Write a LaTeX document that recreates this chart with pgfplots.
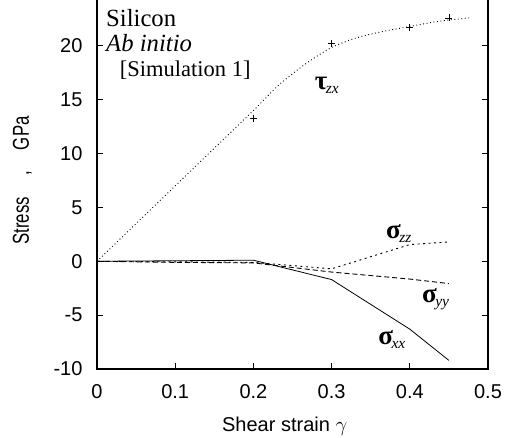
\documentclass[border=0pt]{standalone}
\usepackage{pgfplots}
\pgfplotsset{compat=1.18}
\usepackage{fontspec}
\setmainfont{Liberation Serif}
\newfontfamily\arial{Liberation Sans}
\newcommand\lab[2]{{\fontsize{27}{30}\selectfont\bfseries #1}\kern-1.5pt\raisebox{-4pt}{\fontsize{15.5}{18}\selectfont\itshape #2}}
\begin{document}
\begin{tikzpicture}
\begin{axis}[
  at={(0,0)}, anchor=south west,
  scale only axis, width=391pt, height=377pt,
  xmin=0, xmax=0.5, ymin=-10, ymax=25,
  xtick={0,0.1,0.2,0.3,0.4,0.5},
  ytick={-10,-5,0,5,10,15,20,25},
  tick align=inside, major tick length=6pt,
  axis line style={line width=1.2pt},
  every tick/.style={line width=0.8pt, black},
  /pgf/number format/assume math mode=true,
  ticklabel style={font=\arial\fontsize{20}{24}\selectfont},
  xticklabel style={yshift=-12pt},
  yticklabel style={xshift=-11pt},
  xlabel={Shear strain $\gamma$},
  xlabel style={at={(axis description cs:0.48,0)}, anchor=base, yshift=-62pt, font=\arial\fontsize{20}{24}\selectfont},
  clip=false,
]
% tau_zx fitted curve
\addplot[black, line width=0.9pt, dash pattern=on 0.9pt off 2.6pt, smooth] coordinates {
(0,0)(0.05,3.5)(0.1,7.0)(0.15,10.5)(0.2,14.0)(0.23,16.2)(0.25,17.4)(0.27,18.5)(0.3,19.85)(0.33,20.7)(0.36,21.25)(0.4,21.8)(0.43,22.2)(0.45,22.4)(0.477,22.6)};
% tau_zx data points
\addplot[black, only marks, mark=+, mark size=3.5pt, line width=0.7pt] coordinates {
(0.2,13.3)(0.3,20.2)(0.4,21.7)(0.45,22.6)};
% sigma_xx
\addplot[black, line width=0.8pt] coordinates {
(0,0)(0.1,0.05)(0.2,0.1)(0.3,-1.7)(0.4,-6.3)(0.45,-9.2)};
% sigma_yy
\addplot[black, line width=0.9pt, dash pattern=on 5pt off 3pt] coordinates {
(0,0)(0.1,-0.1)(0.2,-0.15)(0.3,-1.0)(0.4,-1.65)(0.45,-2.07)};
% sigma_zz
\addplot[black, line width=0.9pt, dash pattern=on 2pt off 3.5pt] coordinates {
(0,0)(0.1,-0.05)(0.2,-0.1)(0.3,-0.7)(0.4,1.55)(0.45,1.8)};
% text
\node[anchor=base west, inner sep=0pt, font=\fontsize{24.7}{28}\selectfont] at (axis cs:0.0115,21.8) {Silicon};
\node[anchor=base west, inner sep=0pt, font=\fontsize{24.7}{28}\selectfont\itshape] at (axis cs:0.0115,19.5) {Ab initio};
\node[anchor=base west, inner sep=0pt, font=\fontsize{22.5}{26}\selectfont] at (axis cs:0.029,17.2) {[Simulation 1]};
% curve labels
\node at (axis cs:0.294,16.3) {\lab{τ}{zx}};
\node at (axis cs:0.386,2.6) {\lab{σ}{zz}};
\node at (axis cs:0.433,-3.5) {\lab{σ}{yy}};
\node at (axis cs:0.377,-7.3) {\lab{σ}{xx}};
\end{axis}
\node[rotate=90, anchor=base, font=\arial\fontsize{23}{26}\selectfont] at (-68pt,188.5pt) {\scalebox{0.73}[1]{Stress\hspace{29pt},\hspace{29pt}GPa}};
\pgfresetboundingbox
\path[use as bounding box] (-97pt,-68pt) rectangle (408pt,369pt);
\end{tikzpicture}
\end{document}
